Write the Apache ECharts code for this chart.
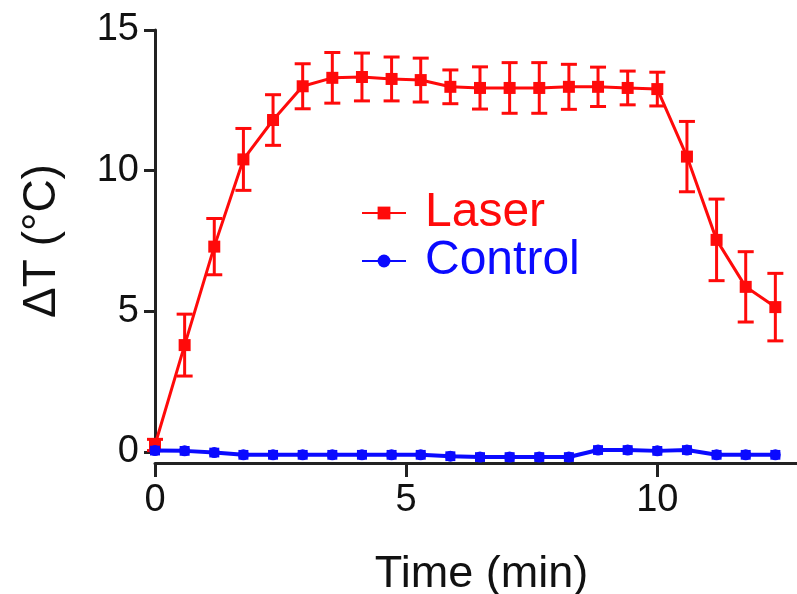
<!DOCTYPE html>
<html>
<head>
<meta charset="utf-8">
<script src="https://cdn.jsdelivr.net/npm/echarts@6/dist/echarts.min.js"></script>
<style>
html, body {margin: 0; padding: 0; background: #fff;}
#chart {width: 797px; height: 594px;}
</style>
</head>
<body>
<div id="chart"></div>
<script>
// time points (min)
const timeMin = [0, 0.59, 1.18, 1.76, 2.35, 2.94, 3.53, 4.12, 4.71, 5.29, 5.88,
    6.47, 7.06, 7.65, 8.24, 8.82, 9.41, 10.0, 10.59, 11.18, 11.76, 12.35];

const laserMean = [0.25, 3.8, 7.3, 10.4, 11.8, 13.0, 13.3, 13.33, 13.26, 13.22, 12.98,
    12.94, 12.94, 12.94, 12.98, 12.98, 12.94, 12.9, 10.5, 7.54, 5.87, 5.15];
const laserErr = [0.2, 1.1, 1.0, 1.1, 0.9, 0.8, 0.9, 0.85, 0.78, 0.78, 0.6,
    0.75, 0.9, 0.9, 0.8, 0.7, 0.6, 0.6, 1.25, 1.45, 1.25, 1.2];

const controlMean = [0.05, 0.04, -0.02, -0.1, -0.1, -0.1, -0.1, -0.1, -0.1, -0.1, -0.15,
    -0.18, -0.18, -0.18, -0.18, 0.07, 0.07, 0.04, 0.07, -0.1, -0.1, -0.1];
const controlErr = [0.12, 0.12, 0.12, 0.12, 0.12, 0.12, 0.12, 0.12, 0.12, 0.12, 0.12,
    0.12, 0.12, 0.12, 0.12, 0.12, 0.12, 0.12, 0.12, 0.12, 0.12, 0.12];

const yTicks = [0, 5, 10, 15];
const xTicks = [0, 5, 10];

const LASER = '#ff0a0a';
const CONTROL = '#0a0aff';
const AXIS = '#222222';
const TEXT_FONT = '"Liberation Sans", Arial, sans-serif';

const pairs = (xs, ys) => xs.map((x, i) => [x, ys[i]]);
const bars = (xs, ys, es) => xs.map((x, i) => [x, ys[i] - es[i], ys[i] + es[i]]);

const errorBarSeries = (name, data, color, capHalf, width, z) => ({
    name,
    type: 'custom',
    clip: false,
    z,
    silent: true,
    encode: {x: 0, y: [1, 2]},
    data,
    renderItem: (params, api) => {
        const lo = api.coord([api.value(0), api.value(1)]);
        const hi = api.coord([api.value(0), api.value(2)]);
        const style = {stroke: color, lineWidth: width};
        return {
            type: 'group',
            children: [
                {type: 'line', shape: {x1: lo[0], y1: lo[1], x2: hi[0], y2: hi[1]}, style},
                {type: 'line', shape: {x1: lo[0] - capHalf, y1: lo[1], x2: lo[0] + capHalf, y2: lo[1]}, style},
                {type: 'line', shape: {x1: hi[0] - capHalf, y1: hi[1], x2: hi[0] + capHalf, y2: hi[1]}, style}
            ]
        };
    }
});

const chart = echarts.init(document.getElementById('chart'), null, {renderer: 'canvas'});

chart.setOption({
    animation: false,
    backgroundColor: '#ffffff',
    grid: {left: 155, top: 30, right: -11, bottom: 142, containLabel: false, outerBoundsMode: 'none'},
    legend: {
        orient: 'vertical',
        left: 356,
        top: 184,
        itemWidth: 44,
        itemHeight: 16,
        itemGap: 0,
        data: [
            {name: 'Laser', textStyle: {color: LASER}},
            {name: 'Control', textStyle: {color: CONTROL}}
        ],
        textStyle: {fontSize: 48, fontFamily: TEXT_FONT, lineHeight: 48, padding: [0, 0, 0, 14]}
    },
    xAxis: {
        type: 'value',
        min: 0,
        max: 13,
        interval: 5,
        offset: 11,
        name: 'Time (min)',
        nameLocation: 'middle',
        nameGap: 89,
        nameTextStyle: {fontSize: 45, fontFamily: TEXT_FONT, color: '#111'},
        axisLine: {show: true, onZero: false, lineStyle: {color: AXIS, width: 3}},
        axisTick: {show: true, length: 14, lineStyle: {color: AXIS, width: 3}},
        axisLabel: {
            margin: 19, fontSize: 38, fontFamily: TEXT_FONT, color: '#111',
            showMaxLabel: false,
            formatter: v => (xTicks.indexOf(v) >= 0 ? String(v) : '')
        },
        splitLine: {show: false}
    },
    yAxis: {
        type: 'value',
        min: 0,
        max: 15,
        interval: 5,
        name: 'ΔT (°C)',
        nameLocation: 'middle',
        nameGap: 90,
        nameTextStyle: {fontSize: 46, fontFamily: TEXT_FONT, color: '#111'},
        axisLine: {show: true, lineStyle: {color: AXIS, width: 3}},
        axisTick: {show: true, length: 11, lineStyle: {color: AXIS, width: 3}},
        axisLabel: {
            margin: 16, fontSize: 38, fontFamily: TEXT_FONT, color: '#111',
            formatter: v => (yTicks.indexOf(v) >= 0 ? String(v) : '')
        },
        splitLine: {show: false}
    },
    series: [
        errorBarSeries('Laser SEM', bars(timeMin, laserMean, laserErr), LASER, 8, 3, 2),
        {
            name: 'Laser',
            type: 'line',
            clip: false,
            z: 3,
            data: pairs(timeMin, laserMean),
            symbol: 'rect',
            symbolSize: 12,
            itemStyle: {color: LASER},
            lineStyle: {color: LASER, width: 3}
        },
        errorBarSeries('Control SEM', bars(timeMin, controlMean, controlErr), CONTROL, 5, 3, 4),
        {
            name: 'Control',
            type: 'line',
            clip: false,
            z: 5,
            data: pairs(timeMin, controlMean),
            symbol: 'circle',
            symbolSize: 11,
            itemStyle: {color: CONTROL},
            lineStyle: {color: CONTROL, width: 4}
        }
    ]
});
</script>
</body>
</html>
